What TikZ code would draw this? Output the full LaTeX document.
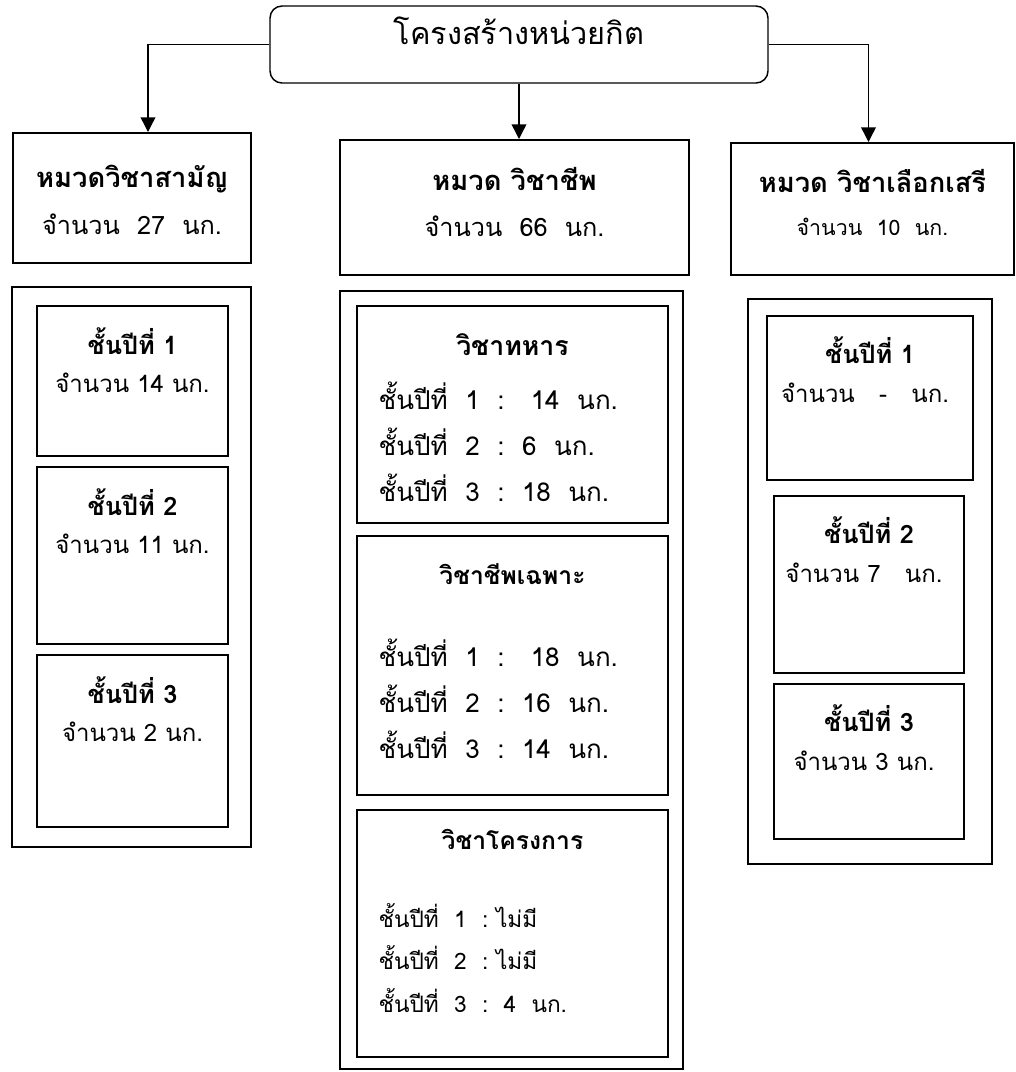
\documentclass[tikz,border=0pt]{standalone}
\usepackage{fontspec}
\newfontfamily\thai[Script=Thai]{Loma}
\usetikzlibrary{calc, positioning, fit, arrows.meta}

\begin{document}
\begin{tikzpicture}[x=0.75pt, y=-0.75pt,
    every node/.style={font=\thai},
    frame/.style={draw, line width=1.5pt, inner sep=0pt},
    inbox/.style={draw, line width=1.3pt, inner sep=0pt},
    conn/.style={line width=1.1pt, -{Triangle[length=11pt, width=11pt]}},
    mainhead/.style={font=\thai\bfseries\fontsize{20.5}{24}\selectfont},
    maintext/.style={font=\thai\fontsize{19}{22}\selectfont},
    yhead/.style={font=\thai\bfseries\fontsize{19}{22}\selectfont},
    ytext/.style={font=\thai\fontsize{18}{21}\selectfont},
    lines/.style={font=\thai\fontsize{19.5}{34.5}\selectfont, align=left, anchor=west}]
    \useasboundingbox (0,0) rectangle (1015,1072);

    % top
    \node[draw, line width=1.1pt, rounded corners=9pt, inner sep=0pt,
        fit={(270,6) (768,83)}, font=\thai\fontsize{23}{27}\selectfont] (top) {โครงสร้างหน่วยกิต};

    % three groups
    \node[frame, fit={(13,133) (251,263)}] (sam) {};
    \node[frame, fit={(340,140) (689,275)}] (cheep) {};
    \node[frame, fit={(731,143) (1014,275)}] (seri) {};
    \node[mainhead] (samh) at ($(sam.north)+(0,47)$) {หมวดวิชาสามัญ};
    \node[maintext] (samn) at ($(sam.north)+(0,92)$) {จำนวน~~27~~นก.};
    \node[mainhead] (cheeph) at ($(cheep.north)+(0,40)$) {หมวด วิชาชีพ};
    \node[maintext] (cheepn) at ($(cheep.north)+(0,87)$) {จำนวน~~66~~นก.};
    \node[mainhead] (serih) at ($(seri.north)+(0,39)$) {หมวด วิชาเลือกเสรี};
    \node[maintext, font=\thai\fontsize{16}{19}\selectfont] (serin) at ($(seri.north)+(0,85)$) {จำนวน~~10~~นก.};

    \draw[conn] (top.west) -| ([xshift=12pt]sam.north);
    \draw[conn] (top.south) -- (top.south |- cheep.north);
    \draw[conn] (top.east) -| ([xshift=-3pt]seri.north);

    % left column
    \node[frame, fit={(12,287) (251,847)}] (samall) {};
    \foreach \i/\ya/\yb/\n in {1/306/456/14, 2/467/644/11, 3/655/827/2} {
        \node[inbox, fit={(37,\ya) (228,\yb)}] (sam\i) {};
        \node[yhead] (sam\i h) at ($(sam\i.north)+(0,36)$) {ชั้นปีที่ \i};
        \node[ytext] (sam\i n) at ($(sam\i.north)+(0,78)$) {จำนวน \n\ นก.};
    }

    % right column
    \node[frame, fit={(748,299) (992,864)}] (seriall) {};
    \foreach \i/\xa/\xb/\ya/\yb/\n in {1/767/973/316/480/{~~-~~}, 2/774/964/496/673/{7~~}, 3/774/964/684/839/{3}} {
        \node[inbox, fit={(\xa,\ya) (\xb,\yb)}] (seri\i) {};
        \node[yhead] (seri\i h) at ($(seri\i.north)+(0,35)$) {ชั้นปีที่ \i};
        \node[ytext] (seri\i n) at ($(seri\i.north)+(-5,78)$) {จำนวน \n\ นก.};
    }

    % middle column
    \node[frame, fit={(340,291) (683,1069)}] (cheepall) {};
    \node[inbox, fit={(357,306) (668,523)}] (tahan) {};
    \node[inbox, fit={(357,536) (668,795)}] (chapo) {};
    \node[inbox, fit={(357,810) (668,1057)}] (krong) {};
    \node[yhead, font=\thai\bfseries\fontsize{20}{23}\selectfont] (tahanh) at ($(tahan.north)+(0,39)$) {วิชาทหาร};
    \node[yhead, font=\thai\bfseries\fontsize{18.5}{21}\selectfont] (chapoh) at ($(chapo.north)+(0,39)$) {วิชาชีพเฉพาะ};
    \node[yhead, font=\thai\bfseries\fontsize{18.5}{21}\selectfont] (krongh) at ($(krong.north)+(0,30)$) {วิชาโครงการ};
    \node[lines] (tahanl) at (374,442) {ชั้นปีที่~~1~~:~~~14~~นก.\\ชั้นปีที่~~2~~:~~6~~นก.\\ชั้นปีที่~~3~~:~~18~~นก.};
    \node[lines] (chapol) at (374,699) {ชั้นปีที่~~1~~:~~~18~~นก.\\ชั้นปีที่~~2~~:~~16~~นก.\\ชั้นปีที่~~3~~:~~14~~นก.};
    \node[lines, font=\thai\fontsize{17}{32}\selectfont] (krongl) at (374,958) {ชั้นปีที่~~1~~:~ไม่มี\\ชั้นปีที่~~2~~:~ไม่มี\\ชั้นปีที่~~3~~:~~4~~นก.};
\end{tikzpicture}
\end{document}
